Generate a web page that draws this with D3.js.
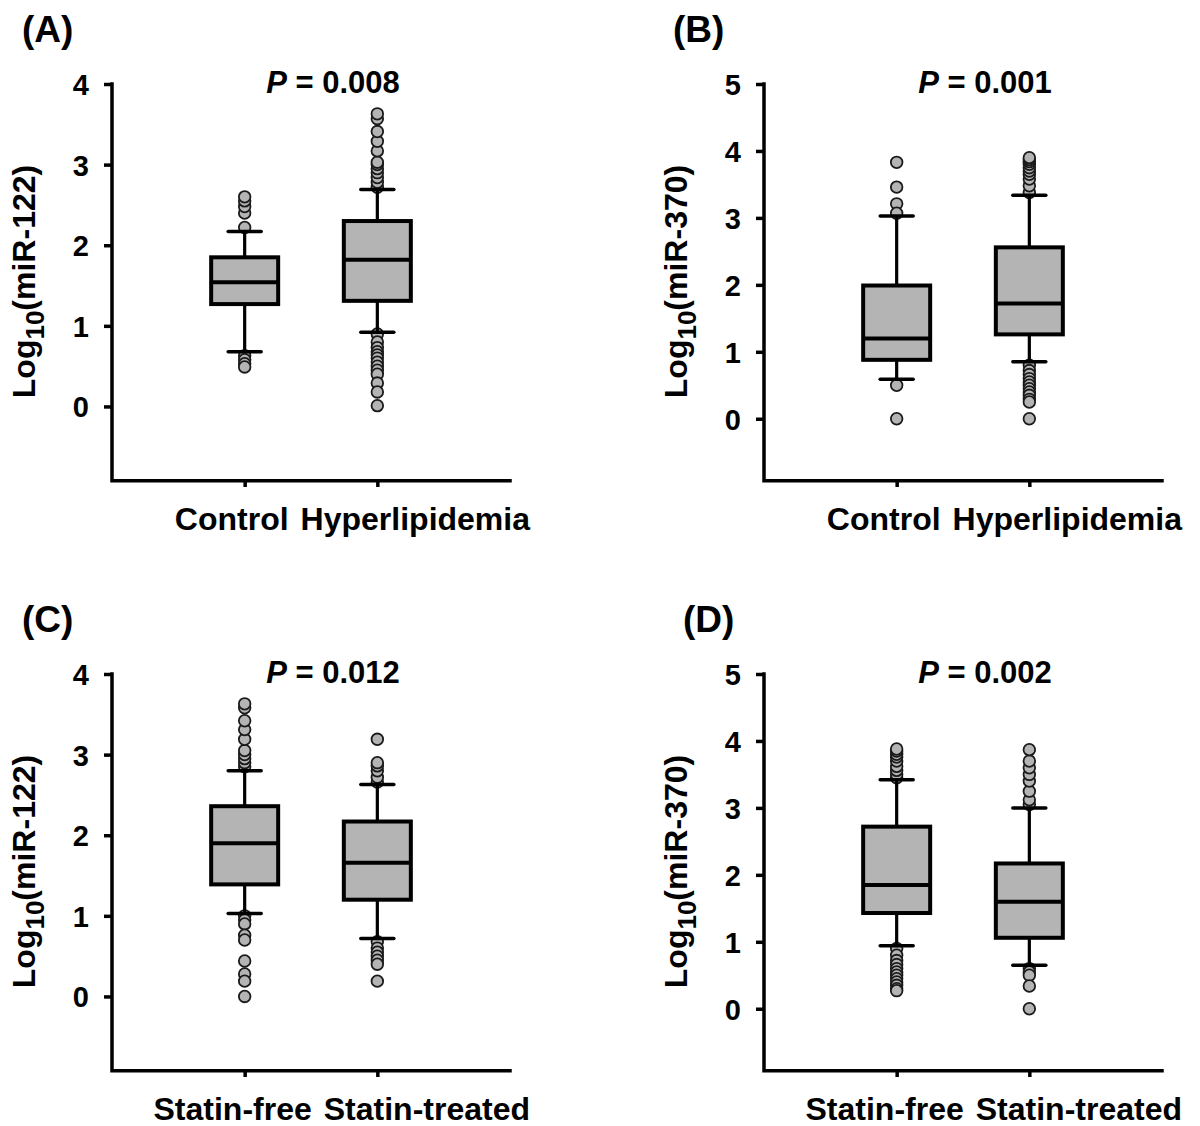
<!DOCTYPE html>
<html>
<head>
<meta charset="utf-8">
<script src="https://cdnjs.cloudflare.com/ajax/libs/d3/7.8.5/d3.min.js"></script>
<style>
  body { margin: 0; background: #fff; }
  svg text { font-family: "Liberation Sans", Arial, sans-serif; font-weight: bold; fill: #000; }
</style>
</head>
<body>
<div class="chart-container"></div>
<script>
// panel info
var panelLabels = ["(A)", "(B)", "(C)", "(D)"];
var pValues = ["0.008", "0.001", "0.012", "0.002"];
var mirNames = ["miR-122", "miR-370", "miR-122", "miR-370"];
var yMaxes = [4, 5, 4, 5];
var yMin = -0.9;
var groupNames = [
    ["Control", "Hyperlipidemia"],
    ["Control", "Hyperlipidemia"],
    ["Statin-free", "Statin-treated"],
    ["Statin-free", "Statin-treated"]
];

// box statistics, [group1, group2] per panel
var q1s      = [[1.27, 1.31], [0.88, 1.26], [1.39, 1.20], [1.43, 1.06]];
var medians  = [[1.54, 1.82], [1.20, 1.72], [1.90, 1.66], [1.85, 1.60]];
var q3s      = [[1.85, 2.30], [1.99, 2.56], [2.36, 2.17], [2.72, 2.17]];
var whiskLo  = [[0.68, 0.92], [0.59, 0.85], [1.03, 0.72], [0.94, 0.65]];
var whiskHi  = [[2.17, 2.69], [3.03, 3.34], [2.80, 2.63], [3.42, 3.00]];

// outliers
var outliersA = [
    [2.22, 2.40, 2.48, 2.55, 2.60, 0.63, 0.58, 0.53, 0.49],
    [2.72, 2.78, 2.84, 2.90, 2.95, 3.00, 3.03, 3.17, 3.29, 3.41, 3.57, 3.63,
     0.90, 0.80, 0.73, 0.68, 0.64, 0.60, 0.55, 0.50, 0.45, 0.40, 0.29, 0.18, 0.01]
];
var outliersB = [
    [3.83, 3.46, 3.21, 3.07, 0.50, 0.00],
    [3.38, 3.48, 3.58, 3.65, 3.70, 3.75, 3.80, 3.84, 3.87, 3.90,
     0.80, 0.72, 0.66, 0.60, 0.55, 0.50, 0.45, 0.40, 0.35, 0.29, 0.25, 0.00]
];
var outliersC = [
    [2.85, 2.90, 2.95, 3.00, 3.05, 3.19, 3.31, 3.42, 3.58, 3.63,
     1.00, 0.95, 0.90, 0.76, 0.70, 0.44, 0.28, 0.19, 0.00],
    [2.66, 2.72, 2.80, 2.86, 2.90, 3.19, 0.68, 0.60, 0.55, 0.50, 0.45, 0.40, 0.19]
];
var outliersD = [
    [3.45, 3.50, 3.56, 3.62, 3.70, 3.76, 3.80, 3.85, 3.88,
     0.90, 0.80, 0.72, 0.66, 0.60, 0.55, 0.50, 0.45, 0.40, 0.35, 0.30, 0.27],
    [3.05, 3.12, 3.25, 3.40, 3.50, 3.60, 3.70, 3.87, 0.60, 0.55, 0.50, 0.34, 0.00]
];
var outliers = [outliersA, outliersB, outliersC, outliersD];

// where each panel's axes sit on the page
var panelOrigins = [
    {x: 112, y: 84, lx: 22},
    {x: 764, y: 84, lx: 673},
    {x: 112, y: 674, lx: 22},
    {x: 764, y: 674, lx: 683}
];
var plotW = 398, plotH = 395;

var svg = d3.select(".chart-container").append("svg")
    .attr("width", 1200)
    .attr("height", 1126);

panelOrigins.forEach(function (o, i) {
    drawPanel(svg, o, i);
});

function drawPanel(svg, o, i) {
    var g = svg.append("g").attr("transform", "translate(" + o.x + "," + o.y + ")");

    var x = d3.scalePoint().domain(groupNames[i]).range([0, plotW]).padding(1);
    var y = d3.scaleLinear().domain([yMin, yMaxes[i]]).range([plotH, 0]);

    // panel letter
    svg.append("text")
        .attr("x", o.lx)
        .attr("y", o.y - 42)
        .style("font-size", "37px")
        .text(panelLabels[i]);

    // P value title
    var t = g.append("text")
        .attr("x", plotW / 2 + 22)
        .attr("y", 9)
        .attr("text-anchor", "middle")
        .style("font-size", "31px");
    t.append("tspan").style("font-style", "italic").text("P");
    t.append("tspan").text(" = " + pValues[i]);

    // y axis
    var yAxis = d3.axisLeft(y)
        .tickValues(d3.range(0, yMaxes[i] + 1))
        .tickFormat(d3.format("d"))
        .tickSize(8)
        .tickSizeOuter(0)
        .tickPadding(15);
    var ya = g.append("g").call(yAxis);
    ya.select(".domain").remove();
    ya.selectAll("line").attr("stroke", "#000").attr("stroke-width", 3.5);
    ya.selectAll("text")
        .style("font-size", "29px")
        .attr("dy", "0.36em");
    g.append("path")
        .attr("d", "M0," + y(yMaxes[i]) + "V" + (plotH + 1.75) + "H" + plotW)
        .attr("fill", "none")
        .attr("stroke", "#000")
        .attr("stroke-width", 3.5)
        .attr("stroke-linecap", "square");

    // x ticks
    var xAxis = d3.axisBottom(x).tickSize(8).tickSizeOuter(0).tickFormat("");
    var xa = g.append("g").attr("transform", "translate(0," + plotH + ")").call(xAxis);
    xa.select(".domain").remove();
    xa.selectAll("line").attr("stroke", "#000").attr("stroke-width", 3.5);

    // category labels, laid out as one line ending past the axis end
    var lab2 = g.append("text")
        .attr("x", plotW + 20)
        .attr("y", plotH + 51)
        .attr("text-anchor", "end")
        .style("font-size", "32px")
        .text(groupNames[i][1]);
    var w2 = lab2.node().getComputedTextLength();
    g.append("text")
        .attr("x", plotW + 20 - w2 - 12)
        .attr("y", plotH + 51)
        .attr("text-anchor", "end")
        .style("font-size", "32px")
        .text(groupNames[i][0]);

    // y axis title
    var yt = g.append("text")
        .attr("transform", "translate(-77," + (plotH / 2) + ") rotate(-90)")
        .attr("text-anchor", "middle")
        .style("font-size", "32px");
    yt.append("tspan").text("Log");
    yt.append("tspan").attr("dy", 9).style("font-size", "26px").text("10");
    yt.append("tspan").attr("dy", -9).text("(" + mirNames[i] + ")");

    var boxW = 67, capW = 33;

    groupNames[i].forEach(function (name, k) {
        var cx = x(name);

        // outliers first so whisker caps sit on top
        g.selectAll(".out" + k)
            .data(outliers[i][k])
            .enter().append("circle")
            .attr("class", "out" + k)
            .attr("cx", cx)
            .attr("cy", function (d) { return y(d); })
            .attr("r", 5.8)
            .attr("fill", "#b4b4b4")
            .attr("stroke", "#1a1a1a")
            .attr("stroke-width", 1.8);

        // whiskers
        g.append("line")
            .attr("x1", cx).attr("x2", cx)
            .attr("y1", y(whiskLo[i][k])).attr("y2", y(whiskHi[i][k]))
            .attr("stroke", "#000").attr("stroke-width", 3.2);
        [whiskLo[i][k], whiskHi[i][k]].forEach(function (v) {
            g.append("line")
                .attr("x1", cx - capW / 2).attr("x2", cx + capW / 2)
                .attr("y1", y(v)).attr("y2", y(v))
                .attr("stroke", "#000").attr("stroke-width", 3.5)
                .attr("stroke-linecap", "round");
        });

        // box
        g.append("rect")
            .attr("x", cx - boxW / 2)
            .attr("y", y(q3s[i][k]))
            .attr("width", boxW)
            .attr("height", y(q1s[i][k]) - y(q3s[i][k]))
            .attr("fill", "#b4b4b4")
            .attr("stroke", "#000")
            .attr("stroke-width", 4);
        g.append("line")
            .attr("x1", cx - boxW / 2).attr("x2", cx + boxW / 2)
            .attr("y1", y(medians[i][k])).attr("y2", y(medians[i][k]))
            .attr("stroke", "#000").attr("stroke-width", 4);
    });
}
</script>
</body>
</html>
